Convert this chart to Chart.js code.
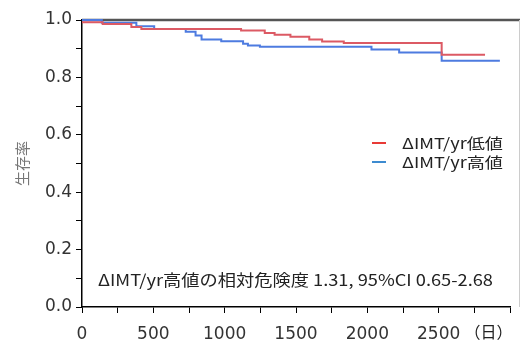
<!DOCTYPE html>
<html>
<head>
<meta charset="utf-8">
<script src="https://cdn.jsdelivr.net/npm/chart.js@4.4.1/dist/chart.umd.min.js"></script>
<style>
  html, body { margin: 0; padding: 0; background: #fff; }
  #wrap { width: 521px; height: 343px; }
</style>
</head>
<body>
<div id="wrap"><canvas id="kmChart" width="521" height="343"></canvas></div>
<script>
// Kaplan-Meier steps (day, survival after the drop)
const lowDays  = [0, 145, 346, 416, 1115, 1281, 1350, 1461, 1593, 1683, 1835, 2521, 2825];
const lowSurv  = [0.992, 0.986, 0.976, 0.969, 0.963, 0.955, 0.949, 0.942, 0.932, 0.925, 0.920, 0.879, 0.879];
const highDays = [0, 139, 381, 506, 727, 796, 838, 976, 1129, 1163, 1247, 2029, 2223, 2521, 2929];
const highSurv = [1.0, 0.990, 0.978, 0.969, 0.959, 0.946, 0.932, 0.926, 0.917, 0.911, 0.907, 0.897, 0.887, 0.858, 0.858];

const seriesNames = ['ΔIMT/yr低値', 'ΔIMT/yr高値'];
const xLabels = [0, 500, 1000, 1500, 2000, 2500];
const yLabels = [0.0, 0.2, 0.4, 0.6, 0.8, 1.0];
const xUnit = '（日）';
const yTitle = '生存率';
const note = 'ΔIMT/yr高値の相対危険度 1.31, 95%CI 0.65-2.68';

const redLine = '#dc5a64';
const blueLine = '#4d7be0';
const redKey = '#e83a36';
const blueKey = '#3d8bd0';
const cjk = '"Noto Sans CJK JP", "DejaVu Sans", sans-serif';
const num = '"DejaVu Sans", sans-serif';

function toPoints(days, surv) {
  return days.map((d, i) => ({ x: d, y: surv[i] }));
}

// text stretched sideways to the width it has in the picture
function wideText(ctx, text, x, y, width) {
  const w = ctx.measureText(text).width;
  ctx.save();
  ctx.translate(x, y);
  ctx.scale(width / w, 1);
  ctx.fillText(text, 0, 0);
  ctx.restore();
}

// frame lines under the curves; legend, note text, unit label on top
const extras = {
  id: 'extras',
  beforeDatasetsDraw(chart) {
    const ctx = chart.ctx;
    const a = chart.chartArea;
    ctx.save();
    ctx.strokeStyle = '#555';
    ctx.lineWidth = 2.5;
    ctx.beginPath();
    ctx.moveTo(a.left, a.top);
    ctx.lineTo(chart.width - 1, a.top);
    ctx.stroke();
    ctx.strokeStyle = '#ccc';
    ctx.lineWidth = 1;
    ctx.beginPath();
    ctx.moveTo(chart.width - 1.5, a.top);
    ctx.lineTo(chart.width - 1.5, a.bottom);
    ctx.stroke();
    ctx.restore();
  },
  afterDraw(chart) {
    const ctx = chart.ctx;
    const xs = chart.scales.x;
    ctx.save();
    ctx.fillStyle = '#222';
    ctx.textBaseline = 'middle';
    const keys = [redKey, blueKey];
    seriesNames.forEach((name, i) => {
      const y = 143 + i * 19;
      ctx.strokeStyle = keys[i];
      ctx.lineWidth = 2;
      ctx.beginPath();
      ctx.moveTo(372, y);
      ctx.lineTo(386, y);
      ctx.stroke();
      ctx.font = '15px ' + cjk;
      wideText(ctx, name, 402, y, 101);
    });

    ctx.font = '16px ' + cjk;
    wideText(ctx, note, 98, 280, 395);

    ctx.font = '16px ' + cjk;
    wideText(ctx, xUnit, xs.getPixelForValue(2850) - 24, 332, 48);
    ctx.restore();
  }
};

new Chart(document.getElementById('kmChart'), {
  type: 'line',
  data: {
    datasets: [
      {
        label: seriesNames[0],
        data: toPoints(lowDays, lowSurv),
        borderColor: redLine,
        borderWidth: 2,
        stepped: 'before',
        pointRadius: 0,
        fill: false,
        clip: false
      },
      {
        label: seriesNames[1],
        data: toPoints(highDays, highSurv),
        borderColor: blueLine,
        borderWidth: 2,
        stepped: 'before',
        pointRadius: 0,
        fill: false,
        clip: false
      }
    ]
  },
  options: {
    responsive: false,
    animation: false,
    layout: { padding: { top: 20, right: 6, left: 0, bottom: 0 } },
    plugins: {
      legend: { display: false },
      tooltip: { enabled: false }
    },
    scales: {
      x: {
        type: 'linear',
        min: 0,
        max: 3000,
        afterFit: s => { s.height = 36; },
        border: { color: '#000', width: 1.5 },
        grid: { drawOnChartArea: false, tickLength: 6, tickColor: '#000' },
        ticks: {
          stepSize: 250,
          padding: 11,
          color: '#333',
          font: { family: num, size: 17 },
          maxRotation: 0,
          autoSkip: false,
          callback: v => xLabels.includes(v) ? String(v) : ''
        }
      },
      y: {
        min: 0,
        max: 1,
        afterFit: s => { s.width = 82; },
        border: { color: '#000', width: 1.5 },
        grid: { drawOnChartArea: false, tickLength: 6, tickColor: '#000' },
        title: {
          display: true,
          text: yTitle,
          color: '#777',
          padding: { top: 13, bottom: 0 },
          font: { family: cjk, size: 15 }
        },
        ticks: {
          stepSize: 0.1,
          padding: 4,
          color: '#333',
          font: { family: num, size: 17 },
          autoSkip: false,
          callback: v => {
            const hit = yLabels.find(l => Math.abs(l - v) < 1e-6);
            return hit === undefined ? '' : hit.toFixed(1);
          }
        }
      }
    }
  },
  plugins: [extras]
});
</script>
</body>
</html>
